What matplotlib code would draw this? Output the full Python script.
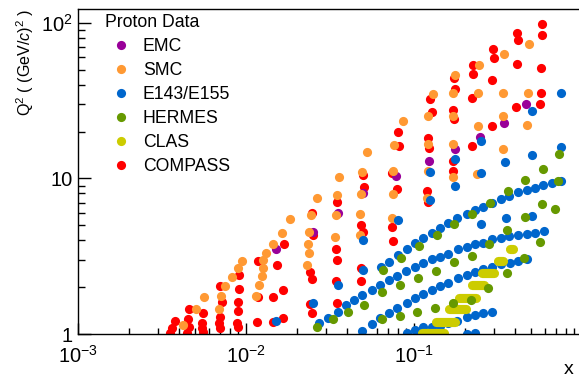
import numpy as np
import matplotlib
matplotlib.use('Agg')
import matplotlib.pyplot as plt
from matplotlib.ticker import FixedLocator, LogLocator, NullFormatter
from matplotlib.lines import Line2D

plt.rcParams['font.family'] = 'Liberation Sans'
plt.rcParams['mathtext.fontset'] = 'custom'
plt.rcParams['mathtext.rm'] = 'Liberation Sans'
plt.rcParams['mathtext.it'] = 'Liberation Sans:italic'
plt.rcParams['mathtext.bf'] = 'Liberation Sans:bold'

# Proton data, (x, Q^2)

compass_x = [0.00353, 0.00363, 0.00378, 0.00446, 0.00458, 0.00452, 0.00458,
             0.00555, 0.00547, 0.00547, 0.00555, 0.0070, 0.0069, 0.0070, 0.0072, 0.0070,
             0.00895, 0.00883, 0.00895, 0.00895, 0.00908, 0.00908,
             0.01163, 0.01179, 0.01179, 0.01448, 0.0166, 0.01448, 0.0166, 0.01529, 0.01683,
             0.0247, 0.0240, 0.0247, 0.0240, 0.0251, 0.0247,
             0.0348, 0.0344, 0.0348, 0.0344, 0.0348,
             0.0483, 0.0483, 0.0497, 0.0483, 0.0504, 0.0497,
             0.075, 0.074, 0.0793, 0.074, 0.0815, 0.0804,
             0.1211, 0.1195, 0.1227, 0.1211, 0.128, 0.1245,
             0.1706, 0.1706, 0.1729, 0.1706, 0.1753, 0.1729,
             0.2213, 0.2213, 0.2244, 0.2244,
             0.2911, 0.2911, 0.2992, 0.2951,
             0.4046, 0.4102, 0.4159, 0.4102,
             0.5623, 0.5702, 0.5702, 0.5781, 0.5781]
compass_q2 = [1.015, 1.09, 1.21, 1.015, 1.11, 1.25, 1.45,
              1.03, 1.09, 1.18, 1.36, 1.09, 1.18, 1.29, 1.61, 2.04,
              1.11, 1.18, 1.41, 1.61, 1.95, 2.40,
              1.19, 1.73, 2.95, 1.19, 1.27, 1.73, 1.92, 2.78, 3.79,
              1.36, 1.56, 2.26, 2.51, 4.33, 6.0,
              1.58, 2.19, 2.99, 3.52, 7.06,
              2.19, 2.66, 4.53, 5.0, 8.81, 10.53,
              3.97, 4.88, 8.56, 10.85, 16.2, 19.9,
              7.06, 8.31, 15.7, 18.2, 26.8, 32.4,
              11.17, 12.96, 24.1, 27.6, 37.6, 44.3,
              16.2, 32.9, 47.0, 53.7,
              21.8, 43.0, 59.6, 68.1,
              28.8, 54.5, 77.8, 86.2,
              30.1, 35.5, 51.4, 83.7, 98.5]

smc_x = [0.00422, 0.00504, 0.00562, 0.0069, 0.0071, 0.0075,
         0.00826, 0.00895, 0.00946,
         0.01147, 0.01194, 0.01245, 0.01262, 0.01262, 0.01315,
         0.01448, 0.01637, 0.01828,
         0.02307, 0.0237, 0.0234, 0.0237, 0.0244, 0.0265,
         0.0339, 0.0344, 0.0348, 0.0358,
         0.0476, 0.0476, 0.0483, 0.049, 0.0525,
         0.074, 0.075, 0.075, 0.076, 0.0861,
         0.1195, 0.1211, 0.1211, 0.1211, 0.1297,
         0.1706, 0.1706, 0.1706, 0.1706, 0.1753,
         0.2371, 0.2405, 0.2405, 0.2438,
         0.3389, 0.3389, 0.3389, 0.3436,
         0.4710, 0.4775, 0.4842]
smc_q2 = [1.14, 1.45, 1.73, 1.45, 1.76, 2.04,
          2.33, 2.66, 2.95,
          1.76, 2.07, 2.36, 2.66, 2.99, 3.32,
          3.79, 4.46, 5.49,
          2.78, 3.32, 3.79, 4.53, 5.82, 7.50,
          4.21, 5.82, 7.83, 10.22,
          4.33, 5.91, 7.95, 11.0, 14.8,
          5.57, 7.95, 11.17, 16.4, 23.4,
          7.5, 11.17, 16.7, 25.2, 34.9,
          10.22, 16.7, 25.2, 35.5, 46.3,
          10.69, 21.8, 35.5, 53.7,
          15.5, 25.2, 35.5, 63.2,
          22.1, 35.5, 73.3]

emc_x = [0.0151, 0.0251, 0.0353, 0.0497, 0.0782, 0.1227, 0.1753, 0.2472, 0.3436, 0.4645]
emc_q2 = [3.52, 4.53, 6.0, 8.07, 10.38, 12.96, 15.5, 18.4, 22.7, 30.1]

e143_x = [0.0151, 0.0251, 0.0353, 0.0497, 0.0497, 0.0804, 0.1245, 0.1245, 0.1753, 0.1753,
          0.2507, 0.2507, 0.2507, 0.3484, 0.3532, 0.5035, 0.5035, 0.5035, 0.7499, 0.7499,
          # upper band
          0.0637, 0.0710, 0.0804, 0.0908, 0.1014, 0.1132, 0.128, 0.1428, 0.159, 0.1803,
          0.2065, 0.2307, 0.2577, 0.2911, 0.3297, 0.3674, 0.4159, 0.4710, 0.5248, 0.5861,
          0.6622, 0.7499,
          # second band
          0.0272, 0.0308, 0.0353, 0.0394, 0.0440, 0.0490, 0.0562, 0.0628, 0.0710, 0.0793,
          0.0895, 0.1014, 0.1132, 0.128, 0.1428, 0.159, 0.1828, 0.2065, 0.2307, 0.2577,
          0.2911, 0.3297, 0.3674, 0.4159, 0.4710, 0.5248, 0.5943,
          # third band
          0.0490, 0.0562, 0.0628, 0.0710, 0.0793, 0.0908, 0.1014, 0.1132, 0.128, 0.1428,
          0.159, 0.1828, 0.2065, 0.2307, 0.2577, 0.2911, 0.3297, 0.3724, 0.4159, 0.4710,
          # lowest bands
          0.0908, 0.1014, 0.1132, 0.128, 0.1428, 0.159, 0.1803, 0.2065, 0.2307, 0.2577,
          0.2911, 0.2065, 0.2307]
e143_q2 = [1.21, 1.58, 2.07, 2.58, 4.03, 5.41, 7.27, 11.0, 8.95, 13.35,
           5.10, 10.85, 17.4, 12.77, 5.57, 5.74, 14.2, 27.2, 35.5, 15.9,
           2.70, 2.90, 3.22, 3.52, 3.85, 4.14, 4.46, 4.81, 5.18, 5.57,
           5.91, 6.27, 6.56, 6.95, 7.38, 7.71, 8.19, 8.43, 8.69, 9.08,
           9.35, 9.63,
           1.18, 1.27, 1.39, 1.54, 1.65, 1.78, 1.92, 2.07, 2.23, 2.36,
           2.54, 2.70, 2.86, 3.04, 3.13, 3.27, 3.52, 3.63, 3.79, 3.85,
           4.08, 4.14, 4.27, 4.33, 4.40, 4.46, 4.60,
           1.045, 1.16, 1.27, 1.36, 1.47, 1.58, 1.70, 1.81, 1.92, 2.04,
           2.13, 2.29, 2.40, 2.51, 2.62, 2.70, 2.82, 2.86, 2.95, 3.04,
           1.015, 1.06, 1.11, 1.11, 1.13, 1.18, 1.21, 1.29, 1.33, 1.36,
           1.39, 1.0, 1.015]

hermes_x = [0.0653, 0.0838, 0.1071, 0.1371, 0.1729, 0.2213, 0.2832, 0.3631, 0.4581, 0.5861, 0.7295,
            0.0265, 0.033, 0.0405, 0.0504, 0.0646, 0.0826, 0.1056, 0.1352, 0.1729, 0.2213,
            0.2793, 0.3581, 0.4581, 0.5781, 0.6902,
            0.0646, 0.0826, 0.1042, 0.1334, 0.1706, 0.2183, 0.2755, 0.3581, 0.4519, 0.5623,
            0.7194]
hermes_q2 = [2.58, 3.08, 3.68, 4.33, 5.10, 5.91, 6.95, 8.31, 9.78, 11.5, 14.4,
             1.11, 1.25, 1.39, 1.54, 1.86, 2.07, 2.29, 2.54, 2.90, 3.17,
             3.79, 4.67, 5.65, 6.85, 6.37,
             1.25, 1.31, 1.39, 1.47, 1.58, 1.65, 1.98, 2.47, 3.08, 3.91,
             9.63]

# CLAS: dense rows of points, first and last x of each Q^2 row
clas_q2 = [1.015, 1.19, 1.45, 1.70, 2.07, 2.47, 2.95, 3.52]
clas_x_first = [0.112, 0.135, 0.162, 0.185, 0.221, 0.254, 0.316, 0.375]
clas_x_last = [0.150, 0.175, 0.203, 0.234, 0.260, 0.299, 0.339, 0.390]

labels = ['EMC', 'SMC', 'E143/E155', 'HERMES', 'CLAS', 'COMPASS']
colors = ['#990099', '#ff9933', '#0066cc', '#669900', '#cccc00', '#ff0000']

MS = 6.6

fig = plt.figure(figsize=(5.79, 3.80), dpi=100)
ax = fig.add_axes([78 / 579, 46 / 380, 504 / 579, 325 / 380])

ax.plot(compass_x, compass_q2, 'o', color=colors[5], ms=MS, mew=0)
ax.plot(emc_x, emc_q2, 'o', color=colors[0], ms=MS, mew=0)
ax.plot(smc_x, smc_q2, 'o', color=colors[1], ms=MS, mew=0)
ax.plot(e143_x, e143_q2, 'o', color=colors[2], ms=MS, mew=0)
for lo, hi, q in zip(clas_x_first, clas_x_last, clas_q2):
    ax.plot([lo, hi], [q, q], color=colors[4], lw=MS, solid_capstyle='round')
ax.plot(hermes_x, hermes_q2, 'o', color=colors[3], ms=MS, mew=0)

ax.set_xscale('log')
ax.set_yscale('log')
ax.set_xlim(1e-3, 1)
ax.set_ylim(1, 122.7)

ax.xaxis.set_major_locator(FixedLocator([1e-3, 1e-2, 1e-1]))
ax.set_xticklabels([r'$10^{-3}$', r'$10^{-2}$', r'$10^{-1}$'])
ax.yaxis.set_major_locator(FixedLocator([1, 10, 100]))
ax.set_yticklabels(['1', '10', r'$10^{2}$'])
ax.xaxis.set_minor_locator(LogLocator(base=10, subs=np.arange(2, 10)))
ax.yaxis.set_minor_locator(LogLocator(base=10, subs=np.arange(2, 10)))
ax.xaxis.set_minor_formatter(NullFormatter())
ax.yaxis.set_minor_formatter(NullFormatter())

ax.tick_params(which='both', direction='in', top=False, right=False, width=1, labelsize=14.5)
ax.tick_params(axis='x', which='major', length=8, pad=8)
ax.tick_params(axis='x', which='minor', length=4.2)
ax.tick_params(axis='y', which='major', length=9, pad=4)
ax.tick_params(axis='y', which='minor', length=4.8)
for s in ax.spines.values():
    s.set_linewidth(1)
ax.spines['right'].set_visible(False)

ax.set_ylabel(r'Q$^{2}$ ( (GeV/$c$)$^{2}$ )', fontsize=11.6, loc='top')
ax.yaxis.set_label_coords(-0.083, 1.0)
ax.set_xlabel('x', fontsize=14, loc='right')
ax.xaxis.set_label_coords(0.984, -0.082)

handles = [Line2D([], [], marker='o', ls='none', color=c, ms=MS, mew=0) for c in colors]
ax.legend(handles, labels, title='Proton Data', loc='upper left',
          bbox_to_anchor=(0.0536, 0.985), frameon=False, fontsize=12.7, title_fontsize=12.7,
          alignment='left', handlelength=1.85, handletextpad=0.3, labelspacing=0.4,
          borderpad=0, borderaxespad=0)

fig.savefig('out.png', dpi=100)
